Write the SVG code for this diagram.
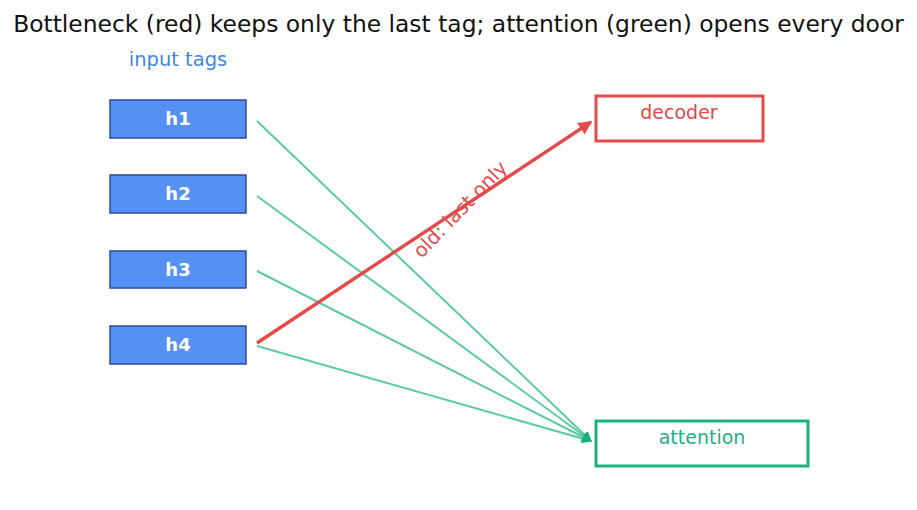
<svg xmlns="http://www.w3.org/2000/svg" width="917" height="510" viewBox="0 0 917 510">
<style>
text{font-family:"DejaVu Sans",sans-serif}
.tag rect{fill:#5591f5;stroke:#2b4a9b;stroke-width:1.5}
.tag text{fill:#fff;font-size:18px;font-weight:bold;text-anchor:middle}
.g{stroke:#5ccba0;stroke-width:2;fill:none}
</style>
<defs>
<marker id="ag" viewBox="0 0 10 10" refX="9" refY="5" markerWidth="5" markerHeight="5" orient="auto"><path d="M0,0L10,5L0,10z" fill="#1db07f"/></marker>
<marker id="ar" viewBox="0 0 10 10" refX="9" refY="5" markerWidth="4" markerHeight="4" orient="auto"><path d="M0,0L10,5L0,10z" fill="#e34a4a"/></marker>
</defs>
<rect width="917" height="510" fill="#fff"/>
<text x="458.5" y="32" font-size="23.4" text-anchor="middle" fill="#111">Bottleneck (red) keeps only the last tag; attention (green) opens every door</text>
<text x="178" y="66" font-size="19.5" text-anchor="middle" fill="#3f86e0">input tags</text>
<g id="connectors">
<line class="g" x1="257" y1="121" x2="591" y2="441" marker-end="url(#ag)"/>
<line class="g" x1="257" y1="196" x2="591" y2="441" marker-end="url(#ag)"/>
<line class="g" x1="257" y1="271" x2="591" y2="441" marker-end="url(#ag)"/>
<line class="g" x1="257" y1="346" x2="591" y2="441" marker-end="url(#ag)"/>
<line x1="257" y1="343" x2="591" y2="122" stroke="#e34a4a" stroke-width="3.4" marker-end="url(#ar)"/>
<text transform="translate(465,214) rotate(-46)" font-size="19.5" text-anchor="middle" fill="#e34a4a">old: last only</text>
</g>
<g id="h1" class="tag"><rect x="110" y="100" width="136" height="38"/><text x="178" y="125">h1</text></g>
<g id="h2" class="tag"><rect x="110" y="175" width="136" height="38"/><text x="178" y="200">h2</text></g>
<g id="h3" class="tag"><rect x="110" y="251" width="136" height="37"/><text x="178" y="276">h3</text></g>
<g id="h4" class="tag"><rect x="110" y="326" width="136" height="38"/><text x="178" y="351">h4</text></g>
<g id="decoder"><rect x="596" y="96" width="167" height="45" fill="#fff" stroke="#e34a4a" stroke-width="3"/><text x="679" y="119" font-size="19" text-anchor="middle" fill="#e34a4a">decoder</text></g>
<g id="attention"><rect x="596" y="421" width="212" height="45" fill="#fff" stroke="#1db07f" stroke-width="3"/><text x="702" y="444" font-size="19" text-anchor="middle" fill="#1db07f">attention</text></g>
</svg>
